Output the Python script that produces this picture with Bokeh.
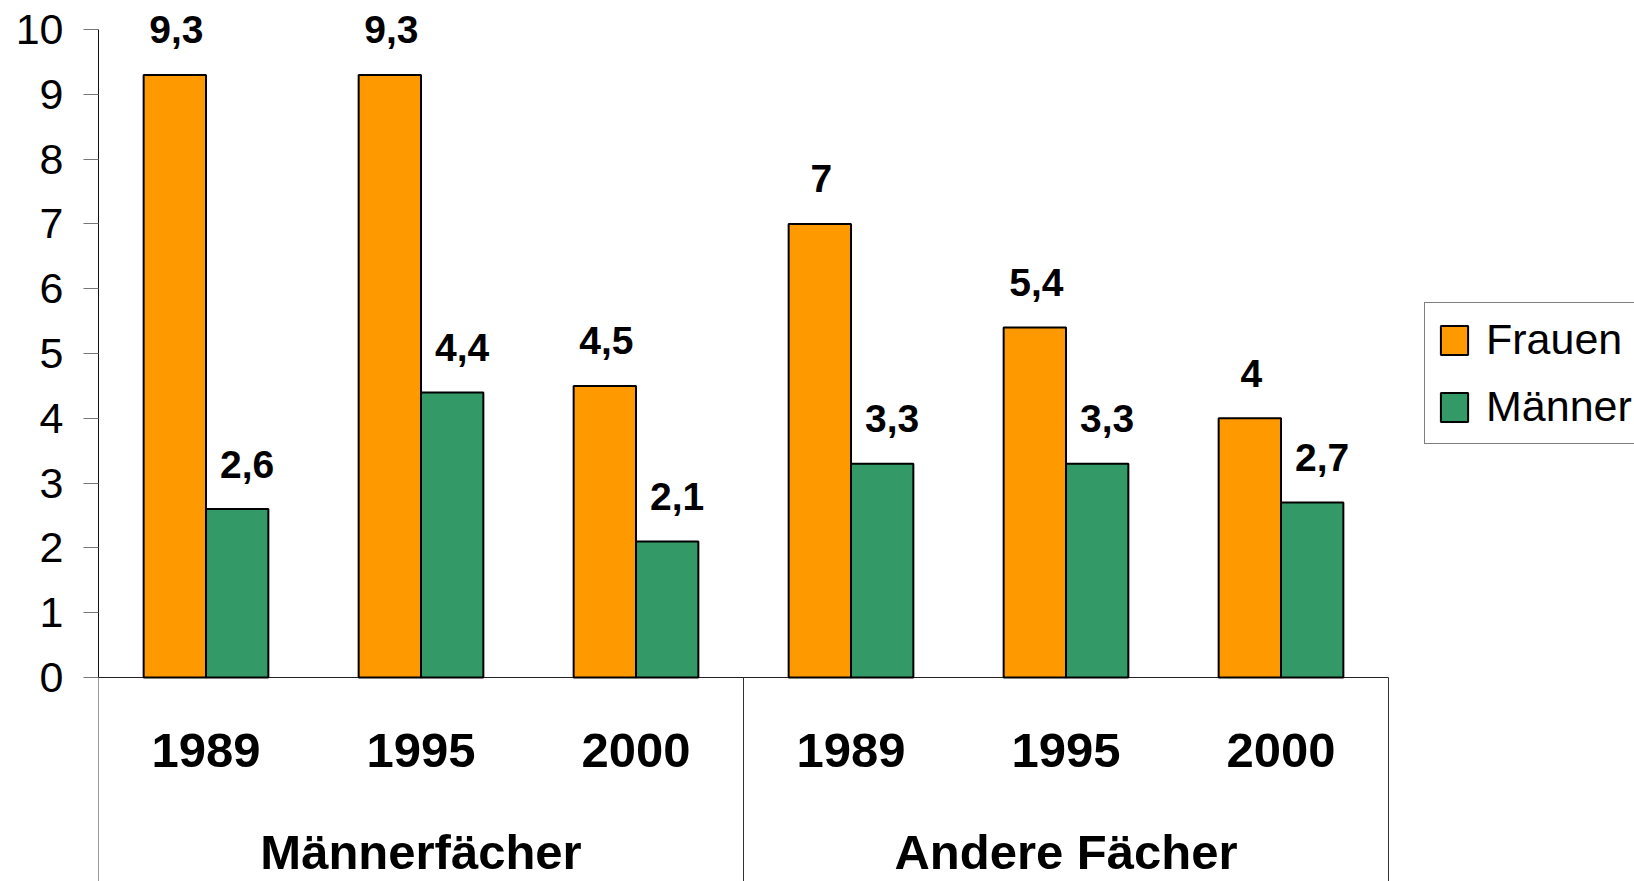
from bokeh.plotting import figure
from bokeh.models import (Range1d, Legend, LegendItem, ColumnDataSource, FixedTicker)
from bokeh.core.properties import value
from bokeh.embed import file_html
from bokeh.resources import INLINE

# ---- data ----
groups = ["Männerfächer", "Andere Fächer"]
years = ["1989", "1995", "2000"]
frauen = [9.3, 9.3, 4.5, 7.0, 5.4, 4.0]
maenner = [2.6, 4.4, 2.1, 3.3, 3.3, 2.7]
y_ticks = [0, 1, 2, 3, 4, 5, 6, 7, 8, 9, 10]

FONT = value("Liberation Sans")
ORANGE = "#FF9900"
GREEN = "#339966"

def fmt(v):
    return ("%g" % v).replace(".", ",")

W, H = 1634, 881
LEFT, RIGHT_EDGE = 98, 1388        # plot-area pixel extent of the six categories
n_cat = len(groups) * len(years)
px_per_cat = (RIGHT_EDGE - LEFT) / n_cat
x_end = (W - LEFT) / px_per_cat    # extra room right of the categories for the legend

bw = 0.29
centers = [i + 0.5 for i in range(n_cat)]
src = ColumnDataSource(dict(
    xf=[c - bw / 2 for c in centers],
    xm=[c + bw / 2 for c in centers],
    xc=centers,
    year=[y for g in groups for y in years],
    frauen=frauen,
    maenner=maenner,
    fl=[fmt(v) for v in frauen],
    ml=[fmt(v) for v in maenner],
))
n_years = len(years)
group_centers = [g * n_years + n_years / 2 for g in range(len(groups))]
seps = [g * n_years for g in range(len(groups) + 1)]

y_bottom = -3.148
p = figure(x_range=Range1d(0, x_end), y_range=Range1d(y_bottom, 10.448), width=W, height=H,
           output_backend="svg", toolbar_location=None, x_axis_location=None,
           min_border_left=LEFT, min_border_right=0, min_border_top=0,
           min_border_bottom=0, outline_line_color=None)
p.xgrid.grid_line_color = None
p.ygrid.grid_line_color = None

ax = p.yaxis[0]
ax.ticker = FixedTicker(ticks=y_ticks)
ax.bounds = (0, 10)
ax.major_tick_out = 15
ax.major_tick_in = 0
ax.minor_tick_line_color = None
ax.axis_line_color = "#111111"
ax.major_tick_line_color = "#777777"
ax.major_label_standoff = 20
ax.major_label_text_font = "Liberation Sans"
ax.major_label_text_font_size = "43px"
ax.major_label_text_color = "black"

# x baseline and group separators
p.segment(x0=[seps[0]], y0=[0], x1=[seps[-1]], y1=[0], line_color="#222222", line_width=1)
p.segment(x0=seps, y0=[0] * len(seps), x1=seps, y1=[y_bottom] * len(seps),
          line_color="#333333", line_width=1)

rf = p.vbar(x="xf", top="frauen", width=bw, source=src,
            fill_color=ORANGE, line_color="black", line_width=2)
rm = p.vbar(x="xm", top="maenner", width=bw, source=src,
            fill_color=GREEN, line_color="black", line_width=2)

common = dict(text_align="center", text_font=FONT, text_color="black", source=src)
p.text(x="xf", y="frauen", text="fl", x_offset=1.5, y_offset=-45,
       text_baseline="alphabetic", text_font_style="bold", text_font_size="39px", **common)
p.text(x="xm", y="maenner", text="ml", x_offset=10, y_offset=-45,
       text_baseline="alphabetic", text_font_style="bold", text_font_size="39px", **common)

# category labels (years and groups)
p.text(x="xc", y=-1.127, text="year", text_baseline="middle", text_font_style="bold",
       text_font_size="49px", **common)
p.text(x=group_centers, y=[-2.70] * len(groups), text=groups, text_align="center",
       text_baseline="middle", text_font=FONT, text_font_style="bold",
       text_font_size="49px", text_color="black")

legend = Legend(items=[LegendItem(label="Frauen", renderers=[rf]),
                       LegendItem(label="Männer", renderers=[rm])],
                location=(1326, 437), margin=0, padding=12, spacing=18,
                glyph_width=34, glyph_height=36, label_height=43, label_standoff=15,
                label_text_font="Liberation Sans", label_text_font_size="43px",
                label_text_color="black", border_line_color="black",
                border_line_width=1, background_fill_color="white",
                background_fill_alpha=1.0)
p.add_layout(legend, "center")

open("out.html", "w").write(file_html(p, INLINE))
